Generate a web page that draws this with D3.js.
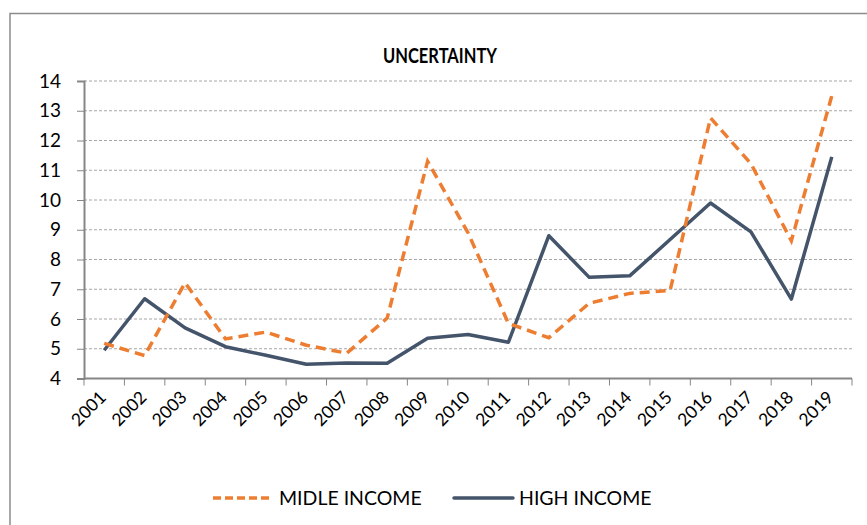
<!DOCTYPE html>
<html>
<head>
<meta charset="utf-8">
<script src="https://cdn.jsdelivr.net/npm/d3@7"></script>
<style>
  body { margin: 0; background: #fff; }
  svg { display: block; font-family: Lato, "Open Sans", sans-serif; }
</style>
</head>
<body>
<svg width="867" height="525"></svg>
<script>
const years = ["2001","2002","2003","2004","2005","2006","2007","2008","2009","2010",
               "2011","2012","2013","2014","2015","2016","2017","2018","2019"];
const middleIncome = [5.18, 4.77, 7.22, 5.33, 5.56, 5.12, 4.85, 6.03, 11.3, 8.9,
                      5.85, 5.37, 6.53, 6.86, 6.96, 12.76, 11.22, 8.63, 13.5];
const highIncome = [4.95, 6.68, 5.7, 5.07, 4.78, 4.48, 4.52, 4.51, 5.35, 5.48,
                    5.22, 8.8, 7.4, 7.45, 8.67, 9.9, 8.93, 6.67, 11.45];
const yTicks = [4, 5, 6, 7, 8, 9, 10, 11, 12, 13, 14];

const svg = d3.select("svg");

// outer chart border (runs off the right and bottom of the picture)
svg.append("rect")
   .attr("x", 10).attr("y", 13.5)
   .attr("width", 900).attr("height", 600)
   .attr("fill", "none").attr("stroke", "#8c8c8c").attr("stroke-width", 1.5);

const margin = { top: 81, left: 84, right: 852, bottom: 378.5 };

const x = d3.scaleBand().domain(years).range([margin.left, margin.right]);
const y = d3.scaleLinear().domain([4, 14]).range([margin.bottom, margin.top]);

// title
svg.append("text")
   .attr("x", 440).attr("y", 63)
   .attr("text-anchor", "middle")
   .attr("font-size", 20).attr("font-weight", "bold")
   .attr("textLength", 114).attr("lengthAdjust", "spacingAndGlyphs")
   .text("UNCERTAINTY");

// gridlines
svg.append("g")
   .selectAll("line")
   .data(yTicks.filter(d => d > 4))
   .join("line")
   .attr("x1", margin.left).attr("x2", margin.right)
   .attr("y1", d => y(d)).attr("y2", d => y(d))
   .attr("stroke", "#a6a6a6").attr("stroke-width", 1)
   .attr("stroke-dasharray", "3,2");

// y axis
const yAxis = svg.append("g")
   .attr("transform", `translate(${margin.left},0)`)
   .call(d3.axisLeft(y).tickValues(yTicks).tickSize(7).tickPadding(16));
yAxis.select(".domain").attr("stroke", "#868686").attr("stroke-width", 2);
yAxis.selectAll(".tick line").attr("stroke", "#868686");
yAxis.selectAll("text").attr("font-size", 19).attr("fill", "#000")
   .attr("font-family", "Lato, sans-serif");

// x axis
const xAxis = svg.append("g")
   .attr("transform", `translate(0,${margin.bottom})`)
   .call(d3.axisBottom(x).tickSize(0).tickFormat(""));
xAxis.select(".domain").attr("stroke", "#868686").attr("stroke-width", 2)
   .attr("d", `M${margin.left},0H${margin.right}`);
xAxis.append("g")
   .selectAll("line")
   .data(years.concat(["end"]))
   .join("line")
   .attr("x1", (d, i) => margin.left + i * x.step())
   .attr("x2", (d, i) => margin.left + i * x.step())
   .attr("y1", 0).attr("y2", 7)
   .attr("stroke", "#868686").attr("stroke-width", 1);

svg.append("g")
   .selectAll("text")
   .data(years)
   .join("text")
   .attr("transform", d => `translate(${x(d) + x.bandwidth() / 2 + 3},${margin.bottom + 20}) rotate(-45)`)
   .attr("text-anchor", "end")
   .attr("font-size", 17.5)
   .text(d => d);

// lines
const line = d3.line()
   .x((d, i) => x(years[i]) + x.bandwidth() / 2)
   .y(d => y(d));

svg.append("path")
   .datum(highIncome)
   .attr("fill", "none")
   .attr("stroke", "#44546A").attr("stroke-width", 3.5)
   .attr("stroke-linejoin", "round")
   .attr("d", line);

svg.append("path")
   .datum(middleIncome)
   .attr("fill", "none")
   .attr("stroke", "#ED7D31").attr("stroke-width", 3.5)
   .attr("stroke-dasharray", "10,6")
   .attr("d", line);

// legend
const legend = svg.append("g").attr("font-size", 19.5);
legend.append("line")
   .attr("x1", 213).attr("x2", 273).attr("y1", 498).attr("y2", 498)
   .attr("stroke", "#ED7D31").attr("stroke-width", 3.5)
   .attr("stroke-dasharray", "8,4");
legend.append("text").attr("x", 279).attr("y", 505).text("MIDLE INCOME");
legend.append("line")
   .attr("x1", 454).attr("x2", 513).attr("y1", 498).attr("y2", 498)
   .attr("stroke", "#44546A").attr("stroke-width", 3.5)
   .attr("stroke-linecap", "round");
legend.append("text").attr("x", 519).attr("y", 505).text("HIGH INCOME");
</script>
</body>
</html>
